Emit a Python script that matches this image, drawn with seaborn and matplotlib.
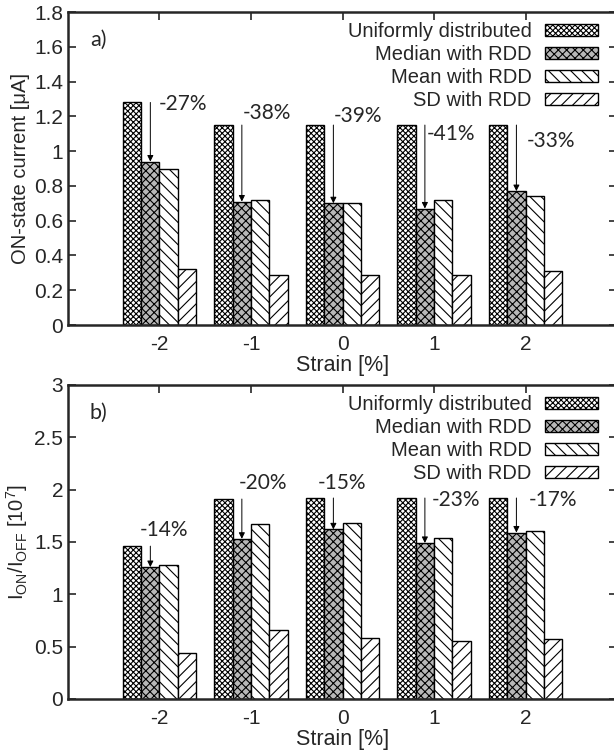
import numpy as np
import pandas as pd
import seaborn as sns
import matplotlib.pyplot as plt
from matplotlib.ticker import FuncFormatter, MultipleLocator

# Strain values and series names
strain = ['-2', '-1', '0', '1', '2']
series = ['Uniformly distributed', 'Median with RDD', 'Mean with RDD', 'SD with RDD']

# a) ON-state current [uA]
on_uniform = [1.28, 1.15, 1.15, 1.15, 1.15]
on_median = [0.94, 0.71, 0.70, 0.67, 0.77]
on_mean = [0.90, 0.72, 0.70, 0.72, 0.74]
on_sd = [0.32, 0.29, 0.29, 0.29, 0.31]
on_labels = ['-27%', '-38%', '-39%', '-41%', '-33%']

# b) ION/IOFF [1e7]
ratio_uniform = [1.46, 1.91, 1.92, 1.92, 1.92]
ratio_median = [1.26, 1.53, 1.62, 1.49, 1.59]
ratio_mean = [1.28, 1.67, 1.68, 1.54, 1.60]
ratio_sd = [0.44, 0.66, 0.58, 0.55, 0.57]
ratio_labels = ['-14%', '-20%', '-15%', '-23%', '-17%']

# text offsets (strain units, y units) relative to arrow start
on_offsets = [(0.09, -0.01), (0.01, 0.07), (0.0, 0.05), (0.02, -0.05), (0.11, -0.09)]
ratio_offsets = [(-0.12, 0.15), (-0.03, 0.15), (-0.175, 0.14), (0.07, -0.02), (0.13, -0.02)]

hatches = ['xxxxxx', 'xxxx', '\\\\\\', '///']
fills = ['white', '#b8b8b8', 'white', 'white']


def make_frame(u, md, mn, sd):
    rows = []
    for name, vals in zip(series, [u, md, mn, sd]):
        for s, v in zip(strain, vals):
            rows.append({'strain': s, 'series': name, 'value': v})
    return pd.DataFrame(rows)


sns.set_style('ticks')
plt.rcParams['font.family'] = ['Liberation Sans', 'DejaVu Sans']
plt.rcParams['hatch.linewidth'] = 0.8
plt.rcParams['axes.linewidth'] = 1.8

fig = plt.figure(figsize=(6.14, 7.52), dpi=100)
ax1 = fig.add_axes([0.1107, 0.5678, 0.8943, 0.4162])
ax2 = fig.add_axes([0.1107, 0.0705, 0.8943, 0.4176])

panels = [
    (ax1, make_frame(on_uniform, on_median, on_mean, on_sd), on_uniform, on_median,
     on_labels, on_offsets, 'ON-state current [μA]', 1.8, 0.2, 'a)'),
    (ax2, make_frame(ratio_uniform, ratio_median, ratio_mean, ratio_sd), ratio_uniform, ratio_median,
     ratio_labels, ratio_offsets,
     r'I$_{\mathregular{ON}}$/I$_{\mathregular{OFF}}$ [10$^{\mathregular{7}}$]', 3.0, 0.5, 'b)'),
]

for ax, df, uni, med, labels, offsets, ylabel, ymax, ystep, tag in panels:
    sns.barplot(data=df, x='strain', y='value', hue='series', order=strain, hue_order=series,
                palette=fills, saturation=1, width=0.8, edgecolor='black', linewidth=1,
                legend=False, ax=ax)
    for cont, h in zip(ax.containers, hatches):
        for p in cont:
            p.set_hatch(h)

    # reduction arrows from uniform to median
    for i, (u, m, lab, (dx, dy)) in enumerate(zip(uni, med, labels, offsets)):
        x = i - 0.1
        ax.annotate('', xy=(x, m), xytext=(x, u),
                    arrowprops=dict(arrowstyle='-|>', color='black', lw=0.7,
                                    mutation_scale=9, shrinkA=0, shrinkB=0))
        ax.text(x + dx, u + dy, lab, ha='left', va='center', fontsize=15,
                family=['Lato', 'DejaVu Sans'])

    ax.set_xlim(-1, 5)
    ax.set_ylim(0, ymax)
    ax.yaxis.set_major_locator(MultipleLocator(ystep))
    ax.yaxis.set_major_formatter(FuncFormatter(lambda v, p: '%g' % round(v, 2)))
    ax.tick_params(direction='in', length=6, width=1.2, top=True, right=True, labelsize=15)
    ax.tick_params(axis='x', pad=7)
    ax.set_xlabel('Strain [%]', fontsize=15.5, labelpad=1)
    ax.set_ylabel(ylabel, fontsize=14.5, labelpad=3)
    ax.text(0.04, 0.91, tag, transform=ax.transAxes, fontsize=15.5,
            family=['Lato', 'DejaVu Sans'], va='center')

    # gnuplot-style key: text right-aligned, sample to the right
    ax.legend(ax.containers, series, loc='upper right', bbox_to_anchor=(0.965, 0.968),
              markerfirst=False, frameon=False, fontsize=14.5, handlelength=2.6,
              handleheight=0.5, labelspacing=0.2, handletextpad=0.7,
              borderaxespad=0, borderpad=0)

fig.savefig('out.png', dpi=100)
